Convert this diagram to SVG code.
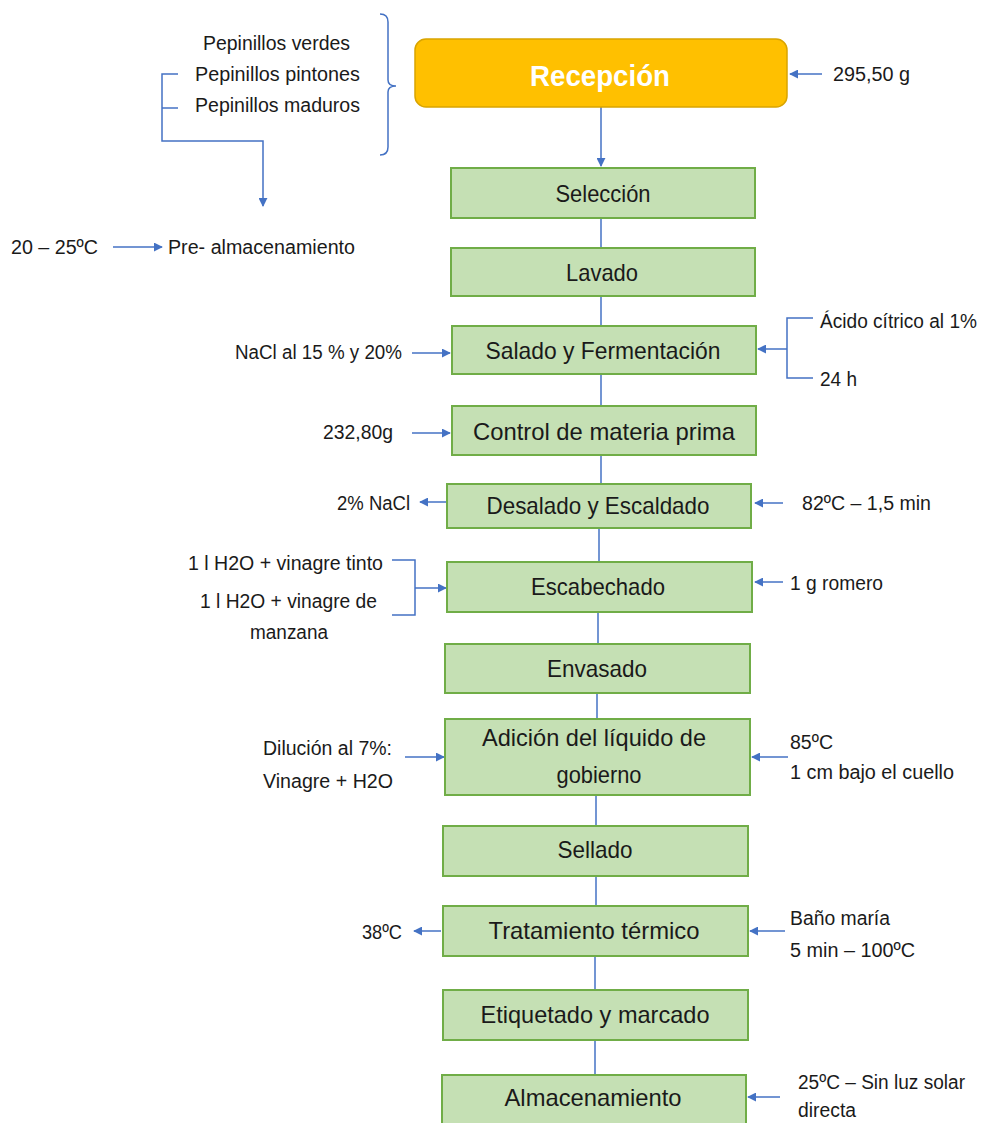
<svg xmlns="http://www.w3.org/2000/svg" width="984" height="1123" viewBox="0 0 984 1123">
<defs>
<style>
text{font-family:"Liberation Sans",Arial,sans-serif;fill:#1a1a1a}
.box{fill:#C5E0B4;stroke:#70AD47;stroke-width:2}
.lbl{font-size:24px;text-anchor:middle}
.sm{font-size:20px}
.ln{stroke:#4472C4;stroke-width:1.5;fill:none}
.ar{stroke:#4472C4;stroke-width:1.5;fill:none;marker-end:url(#ah)}
</style>
<marker id="ah" viewBox="0 0 10 10" refX="9" refY="5" markerWidth="9" markerHeight="9" markerUnits="userSpaceOnUse" orient="auto">
<path d="M0,0 L10,5 L0,10 z" fill="#4472C4"/>
</marker>
</defs>
<rect width="984" height="1123" fill="#fff"/>

<g id="connectors">
<line class="ar" x1="601" y1="107" x2="601" y2="166"/>
<line class="ln" x1="601" y1="218" x2="601" y2="248"/>
<line class="ln" x1="601" y1="296" x2="601" y2="326"/>
<line class="ln" x1="601" y1="374" x2="601" y2="406"/>
<line class="ln" x1="601" y1="455" x2="601" y2="484"/>
<line class="ln" x1="599" y1="528" x2="599" y2="562"/>
<line class="ln" x1="598" y1="612" x2="598" y2="644"/>
<line class="ln" x1="597" y1="693" x2="597" y2="719"/>
<line class="ln" x1="596" y1="795" x2="596" y2="826"/>
<line class="ln" x1="596" y1="876" x2="596" y2="906"/>
<line class="ln" x1="595" y1="956" x2="595" y2="990"/>
<line class="ln" x1="595" y1="1040" x2="595" y2="1075"/>
<path class="ln" d="M380,14 Q388,14 388,22 L388,80 Q388,86 396,86 Q388,86 388,92 L388,147 Q388,155 380,155"/>
<path class="ln" d="M178,74 L162,74 L162,141 L263,141 L263,206" marker-end="url(#ah)"/>
<line class="ln" x1="162" y1="108" x2="178" y2="108"/>
<line class="ar" x1="113" y1="247" x2="162" y2="247"/>
<line class="ar" x1="822" y1="74" x2="790" y2="74"/>
<line class="ar" x1="412" y1="353" x2="450" y2="353"/>
<path class="ln" d="M813,318 L787,318 L787,378 L813,378"/>
<line class="ar" x1="787" y1="349" x2="758" y2="349"/>
<line class="ar" x1="412" y1="433" x2="450" y2="433"/>
<line class="ar" x1="446" y1="502" x2="420" y2="502"/>
<line class="ar" x1="783" y1="503" x2="755" y2="503"/>
<path class="ln" d="M392,560 L415,560 L415,615 L392,615"/>
<line class="ar" x1="415" y1="588" x2="446" y2="588"/>
<line class="ar" x1="783" y1="582" x2="755" y2="582"/>
<line class="ar" x1="405" y1="757" x2="444" y2="757"/>
<line class="ar" x1="788" y1="757" x2="752" y2="757"/>
<line class="ar" x1="441" y1="931" x2="414" y2="931"/>
<line class="ar" x1="785" y1="931" x2="750" y2="931"/>
<line class="ar" x1="780" y1="1097" x2="748" y2="1097"/>
</g>

<g id="recepcion">
<rect x="415" y="39" width="372" height="68" rx="11" fill="#FFC000" stroke="#D9A400" stroke-width="1.5"/>
<text x="600" y="86" font-size="30" font-weight="bold" text-anchor="middle" textLength="140" lengthAdjust="spacingAndGlyphs" style="fill:#fff">Recepción</text>
</g>
<g id="seleccion"><rect class="box" x="451" y="168" width="304" height="50"/><text class="lbl" x="603" y="202" textLength="95" lengthAdjust="spacingAndGlyphs">Selección</text></g>
<g id="lavado"><rect class="box" x="451" y="248" width="304" height="48"/><text class="lbl" x="602" y="281" textLength="72" lengthAdjust="spacingAndGlyphs">Lavado</text></g>
<g id="salado"><rect class="box" x="452" y="326" width="304" height="48"/><text class="lbl" x="603" y="359" textLength="235" lengthAdjust="spacingAndGlyphs">Salado y Fermentación</text></g>
<g id="control"><rect class="box" x="452" y="406" width="304" height="49"/><text class="lbl" x="604" y="440" textLength="262" lengthAdjust="spacingAndGlyphs">Control de materia prima</text></g>
<g id="desalado"><rect class="box" x="447" y="484" width="304" height="44"/><text class="lbl" x="598" y="514" textLength="223" lengthAdjust="spacingAndGlyphs">Desalado y Escaldado</text></g>
<g id="escabechado"><rect class="box" x="447" y="562" width="305" height="50"/><text class="lbl" x="598" y="595" textLength="134" lengthAdjust="spacingAndGlyphs">Escabechado</text></g>
<g id="envasado"><rect class="box" x="445" y="644" width="305" height="49"/><text class="lbl" x="597" y="677" textLength="100" lengthAdjust="spacingAndGlyphs">Envasado</text></g>
<g id="adicion"><rect class="box" x="445" y="719" width="305" height="76"/><text class="lbl" x="594" y="746" textLength="224" lengthAdjust="spacingAndGlyphs">Adición del líquido de</text><text class="lbl" x="599" y="783" textLength="85" lengthAdjust="spacingAndGlyphs">gobierno</text></g>
<g id="sellado"><rect class="box" x="443" y="826" width="305" height="50"/><text class="lbl" x="595" y="858" textLength="75" lengthAdjust="spacingAndGlyphs">Sellado</text></g>
<g id="tratamiento"><rect class="box" x="443" y="906" width="305" height="50"/><text class="lbl" x="594" y="939" textLength="211" lengthAdjust="spacingAndGlyphs">Tratamiento térmico</text></g>
<g id="etiquetado"><rect class="box" x="443" y="990" width="305" height="50"/><text class="lbl" x="595" y="1023" textLength="229" lengthAdjust="spacingAndGlyphs">Etiquetado y marcado</text></g>
<g id="almacenamiento"><rect class="box" x="442" y="1075" width="304" height="50"/><text class="lbl" x="593" y="1106" textLength="177" lengthAdjust="spacingAndGlyphs">Almacenamiento</text></g>

<g id="labels">
<text class="sm" x="203" y="50" textLength="147" lengthAdjust="spacingAndGlyphs">Pepinillos verdes</text>
<text class="sm" x="195" y="81" textLength="165" lengthAdjust="spacingAndGlyphs">Pepinillos pintones</text>
<text class="sm" x="195" y="112" textLength="165" lengthAdjust="spacingAndGlyphs">Pepinillos maduros</text>
<text class="sm" x="11" y="254" textLength="87" lengthAdjust="spacingAndGlyphs">20 – 25ºC</text>
<text class="sm" x="168" y="254" textLength="187" lengthAdjust="spacingAndGlyphs">Pre- almacenamiento</text>
<text class="sm" x="833" y="81" textLength="77" lengthAdjust="spacingAndGlyphs">295,50 g</text>
<text class="sm" x="235" y="359" textLength="167" lengthAdjust="spacingAndGlyphs">NaCl al 15 % y 20%</text>
<text class="sm" x="820" y="328" textLength="157" lengthAdjust="spacingAndGlyphs">Ácido cítrico al 1%</text>
<text class="sm" x="820" y="386" textLength="37" lengthAdjust="spacingAndGlyphs">24 h</text>
<text class="sm" x="323" y="439" textLength="70" lengthAdjust="spacingAndGlyphs">232,80g</text>
<text class="sm" x="337" y="510" textLength="73" lengthAdjust="spacingAndGlyphs">2% NaCl</text>
<text class="sm" x="802" y="510" textLength="129" lengthAdjust="spacingAndGlyphs">82ºC – 1,5 min</text>
<text class="sm" x="188" y="570" textLength="195" lengthAdjust="spacingAndGlyphs">1 l H2O + vinagre tinto</text>
<text class="sm" x="200" y="608" textLength="177" lengthAdjust="spacingAndGlyphs">1 l H2O + vinagre de</text>
<text class="sm" x="250" y="639" textLength="78" lengthAdjust="spacingAndGlyphs">manzana</text>
<text class="sm" x="790" y="590" textLength="93" lengthAdjust="spacingAndGlyphs">1 g romero</text>
<text class="sm" x="263" y="755" textLength="129" lengthAdjust="spacingAndGlyphs">Dilución al 7%:</text>
<text class="sm" x="263" y="788" textLength="130" lengthAdjust="spacingAndGlyphs">Vinagre + H2O</text>
<text class="sm" x="790" y="749" textLength="43" lengthAdjust="spacingAndGlyphs">85ºC</text>
<text class="sm" x="790" y="779" textLength="164" lengthAdjust="spacingAndGlyphs">1 cm bajo el cuello</text>
<text class="sm" x="362" y="939" textLength="40" lengthAdjust="spacingAndGlyphs">38ºC</text>
<text class="sm" x="790" y="925" textLength="100" lengthAdjust="spacingAndGlyphs">Baño maría</text>
<text class="sm" x="790" y="957" textLength="125" lengthAdjust="spacingAndGlyphs">5 min – 100ºC</text>
<text class="sm" x="798" y="1089" textLength="167" lengthAdjust="spacingAndGlyphs">25ºC – Sin luz solar</text>
<text class="sm" x="798" y="1117" textLength="58" lengthAdjust="spacingAndGlyphs">directa</text>
</g>
</svg>
